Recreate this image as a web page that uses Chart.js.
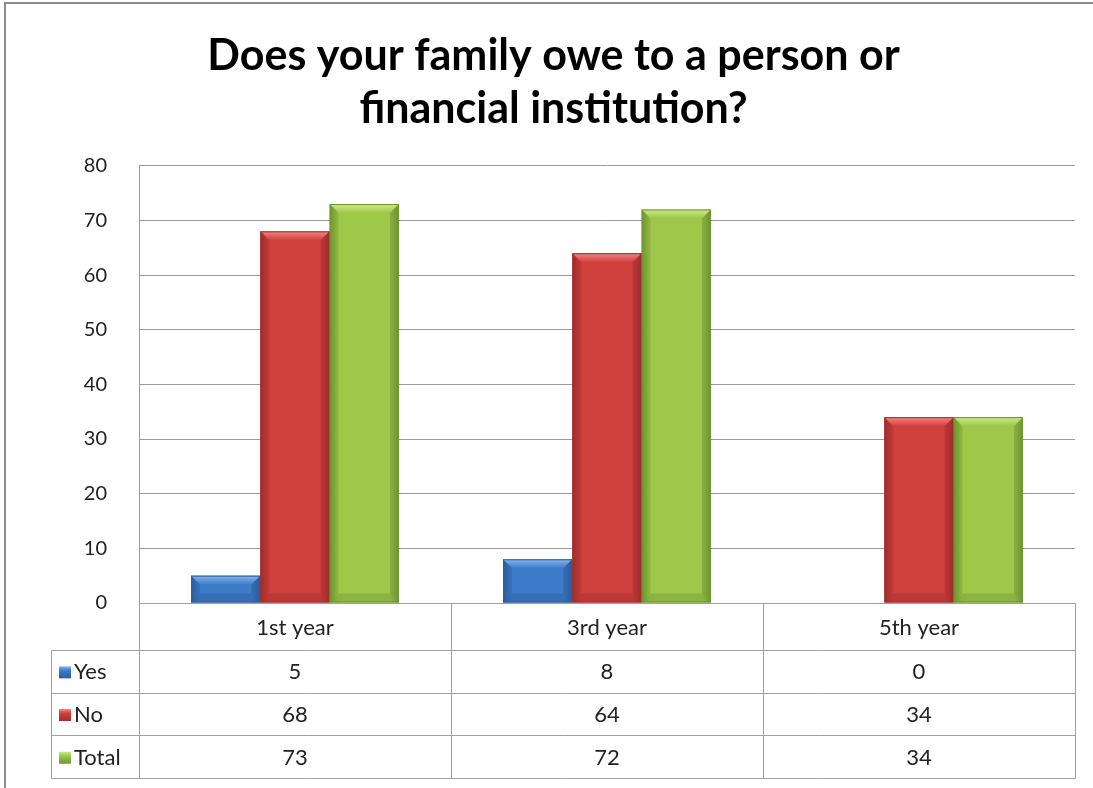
<!DOCTYPE html>
<html>
<head>
<meta charset="utf-8">
<script src="https://cdn.jsdelivr.net/npm/chart.js@4/dist/chart.umd.min.js"></script>
<style>
html,body{margin:0;padding:0;background:#fff;}
#wrap{width:1093px;height:788px;position:relative;}
</style>
</head>
<body>
<div id="wrap"><canvas id="c" width="1093" height="788"></canvas></div>
<script>
const categories = ["1st year", "3rd year", "5th year"];
const seriesNames = ["Yes", "No", "Total"];
const yesValues = [5, 8, 0];
const noValues = [68, 64, 34];
const totalValues = [73, 72, 34];
const yTicks = [0, 10, 20, 30, 40, 50, 60, 70, 80];
const titleLines = ["Does your family owe to a person or", "financial institution?"];

const palette = [
  {main:"#3E7BC8", light:"#86B6EE", dark:"#2B5C9C"},
  {main:"#D0403D", light:"#F08683", dark:"#9E2E2C"},
  {main:"#9DC84A", light:"#CDE98A", dark:"#6F9430"}
];
const FONT = "Lato, 'Open Sans', sans-serif";

const bevelPlugin = {
  id: 'bevel',
  afterDatasetsDraw(chart) {
    const ctx = chart.ctx;
    chart.data.datasets.forEach((ds, di) => {
      const meta = chart.getDatasetMeta(di);
      const col = palette[di];
      meta.data.forEach(el => {
        const p = el.getProps(['x','y','base','width'], true);
        const l = p.x - p.width/2, r = p.x + p.width/2, t = p.y, b = p.base;
        const h = b - t;
        if (h < 1) return;
        const bv = Math.min(9, h/2);
        ctx.save();
        const g = ctx.createLinearGradient(l, 0, r, 0);
        g.addColorStop(0, col.dark);
        g.addColorStop(0.12, col.main);
        g.addColorStop(0.88, col.main);
        g.addColorStop(1, col.dark);
        ctx.fillStyle = g;
        ctx.fillRect(l, t, r - l, h);
        const tg = ctx.createLinearGradient(0, t, 0, t + bv);
        tg.addColorStop(0, col.light); tg.addColorStop(1, col.main);
        ctx.beginPath();
        ctx.moveTo(l, t); ctx.lineTo(r, t); ctx.lineTo(r - bv, t + bv); ctx.lineTo(l + bv, t + bv); ctx.closePath();
        ctx.fillStyle = tg; ctx.fill();
        ctx.beginPath();
        ctx.moveTo(l, t); ctx.lineTo(l + bv, t + bv); ctx.lineTo(l + bv, b - bv); ctx.lineTo(l, b); ctx.closePath();
        ctx.globalAlpha = 0.3; ctx.fillStyle = col.dark; ctx.fill();
        ctx.beginPath();
        ctx.moveTo(r, t); ctx.lineTo(r - bv, t + bv); ctx.lineTo(r - bv, b - bv); ctx.lineTo(r, b); ctx.closePath();
        ctx.globalAlpha = 0.5; ctx.fill();
        ctx.beginPath();
        ctx.moveTo(l, b); ctx.lineTo(l + bv, b - bv); ctx.lineTo(r - bv, b - bv); ctx.lineTo(r, b); ctx.closePath();
        ctx.globalAlpha = 0.4; ctx.fill();
        ctx.globalAlpha = 1;
        ctx.strokeStyle = col.dark; ctx.lineWidth = 1;
        ctx.strokeRect(l + 0.5, t + 0.5, r - l - 1, h - 1);
        ctx.restore();
      });
    });
  }
};

const tablePlugin = {
  id: 'dataTable',
  afterDraw(chart) {
    const ctx = chart.ctx;
    const xs = chart.scales.x;
    const area = chart.chartArea;
    const n = categories.length;
    const catW = (area.right - area.left) / n;
    const headTop = area.bottom;
    const headBot = headTop + 47;
    const rowH = 42.7;
    const tableLeft = 51;
    const tableBot = headBot + rowH * 3;
    ctx.save();
    ctx.strokeStyle = "#A0A0A0";
    ctx.lineWidth = 1;
    const line = (x1,y1,x2,y2) => { ctx.beginPath(); ctx.moveTo(Math.round(x1)+0.5, Math.round(y1)+0.5); ctx.lineTo(Math.round(x2)+0.5, Math.round(y2)+0.5); ctx.stroke(); };
    for (let i = 0; i <= n; i++) {
      const x = area.left + catW * i;
      line(x, headTop, x, tableBot);
    }
    line(tableLeft, headBot, tableLeft, tableBot);
    line(area.left, headTop, area.right, headTop);
    for (let j = 0; j <= 3; j++) {
      const y = headBot + rowH * j;
      line(tableLeft, y, area.right, y);
    }
    ctx.fillStyle = "#222";
    ctx.font = "22px " + FONT;
    ctx.textAlign = "center";
    ctx.textBaseline = "middle";
    categories.forEach((c, i) => {
      const cx = xs.getPixelForValue(i);
      ctx.fillText(c, cx, (headTop + headBot) / 2 + 1);
    });
    const rows = [yesValues, noValues, totalValues];
    rows.forEach((vals, j) => {
      const cy = headBot + rowH * j + rowH / 2 + 1;
      vals.forEach((v, i) => {
        ctx.textAlign = "center";
        ctx.fillText(String(v), xs.getPixelForValue(i), cy);
      });
      const col = palette[j];
      const kx = tableLeft + 8, ky = cy - 6, ks = 12;
      const g = ctx.createLinearGradient(0, ky, 0, ky + ks);
      g.addColorStop(0, col.light); g.addColorStop(0.35, col.main); g.addColorStop(1, col.dark);
      ctx.fillStyle = g;
      ctx.fillRect(kx, ky, ks, ks);
      ctx.fillStyle = "#222";
      ctx.textAlign = "left";
      ctx.fillText(seriesNames[j], kx + ks + 3, cy);
    });
    ctx.restore();
  }
};

const framePlugin = {
  id: 'frame',
  beforeDraw(chart) {
    const ctx = chart.ctx;
    ctx.save();
    ctx.fillStyle = "#fff";
    ctx.fillRect(0, 0, chart.width, chart.height);
    ctx.strokeStyle = "#8C8C8C";
    ctx.lineWidth = 2;
    ctx.beginPath();
    ctx.moveTo(5, 800); ctx.lineTo(5, 3); ctx.lineTo(1093, 3);
    ctx.stroke();
    ctx.restore();
  }
};

new Chart(document.getElementById('c'), {
  type: 'bar',
  data: {
    labels: categories,
    datasets: [
      {label: seriesNames[0], data: yesValues, backgroundColor: 'rgba(0,0,0,0)'},
      {label: seriesNames[1], data: noValues, backgroundColor: 'rgba(0,0,0,0)'},
      {label: seriesNames[2], data: totalValues, backgroundColor: 'rgba(0,0,0,0)'}
    ]
  },
  options: {
    responsive: false,
    animation: false,
    devicePixelRatio: 1,
    categoryPercentage: 3/4.5,
    barPercentage: 1.0,
    layout: {padding: {left: 32, right: 18, top: 14, bottom: 185}},
    plugins: {
      legend: {display: false},
      tooltip: {enabled: false},
      title: {
        display: true,
        text: titleLines,
        color: "#000",
        font: {family: FONT, size: 43, weight: 'bold', lineHeight: 1.23},
        padding: {top: 16, bottom: 30}
      }
    },
    scales: {
      x: {
        ticks: {display: false},
        grid: {display: false, drawTicks: false},
        border: {display: false}
      },
      y: {
        min: 0, max: 80,
        afterBuildTicks(scale) { scale.ticks = yTicks.map(v => ({value: v})); },
        afterFit(scale) { scale.width = 107; },
        ticks: {
          stepSize: 10,
          color: "#222",
          font: {family: FONT, size: 20},
          padding: 32
        },
        grid: {color: "#9A9A9A", drawTicks: false, lineWidth: 1},
        border: {display: true, color: "#9A9A9A"}
      }
    }
  },
  plugins: [framePlugin, bevelPlugin, tablePlugin]
});
</script>
</body>
</html>
